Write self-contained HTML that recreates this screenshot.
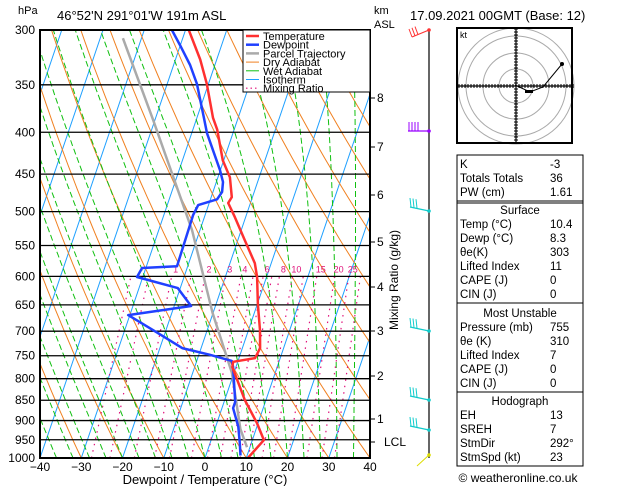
<!DOCTYPE html>
<html><head><meta charset="utf-8">
<style>
body{margin:0;background:#fff;}
svg{display:block;font-family:"Liberation Sans",sans-serif;}
</style></head>
<body>
<svg id="c" width="629" height="486" viewBox="0 0 629 486" xmlns="http://www.w3.org/2000/svg">
<defs><clipPath id="pa"><rect x="40" y="30" width="330" height="428"/></clipPath></defs>
<g id="bg" clip-path="url(#pa)"></g>
<g id="plines"></g>
<g id="series" clip-path="url(#pa)"></g>
<rect x="40" y="30" width="330" height="428" fill="none" stroke="#000" stroke-width="2"/>
<g id="axes" font-size="12"></g>
<text x="18" y="14" font-size="11">hPa</text>
<text x="57" y="20" font-size="13">46°52'N  291°01'W  191m  ASL</text>
<text x="374" y="14" font-size="11">km</text>
<text x="374" y="28" font-size="11">ASL</text>
<text x="410" y="20" font-size="13">17.09.2021  00GMT  (Base: 12)</text>
<text x="205" y="484" font-size="13" text-anchor="middle">Dewpoint / Temperature (°C)</text>
<text transform="translate(398,280) rotate(-90)" font-size="12" text-anchor="middle">Mixing Ratio (g/kg)</text>
<g id="legend" font-size="11">
<rect x="243" y="30" width="127" height="62" fill="#fff" stroke="#000" stroke-width="1"/>
</g>
<g id="winds"></g>
<g id="hodo"></g>
<g id="table" font-size="11.5"></g>
<text x="518" y="482" font-size="12" text-anchor="middle">© weatheronline.co.uk</text>
</svg>
<script>
// ---- data ----
const tempP = [1000,951,906,850,774,763,755,734,698,650,601,578,542,508,488,480,454,433,397,384,349,326,300];
const tempT = [10.4,12.8,9.7,4.9,-0.9,-1.1,3.9,4.3,2.8,0.2,-2.3,-4.0,-8.3,-12.6,-15.4,-15.0,-17.1,-20.2,-24.1,-26.1,-30.4,-34.0,-39.2];
const dewP = [993,959,916,869,854,774,761,748,734,703,669,652,620,601,586,583,505,491,483,473,460,445,401,384,349,331,313,300];
const dewT = [8.4,7.2,5.5,2.7,2.7,-0.7,-1.5,-7.3,-14.6,-21.9,-30.4,-15.9,-20.6,-31.4,-30.9,-22.6,-22.9,-22.5,-18.4,-17.8,-18.4,-20.1,-26.3,-28.3,-32.8,-36.0,-40.1,-43.3];
const parcelP = [970,922,787,665,527,386,307];
const parcelT = [9.3,6.2,-0.5,-10.1,-21.9,-40.5,-54.5];
const pLevels = [300,350,400,450,500,550,600,650,700,750,800,850,900,950,1000];
const xTicks = [-40,-30,-20,-10,0,10,20,30,40];
const kmLabels = ['1','2','3','4','5','6','7','8'];
const kmY = [419,376,331,287,242,195,147,98];
const mixRatios = [1,2,3,4,6,8,10,15,20,25];
const mixExtra = [0.4,0.6,1.5,5,7,12,30];
const windY = [30,131,211,331,400,430,455];
const windColors = ['#f33','#90f','#1cc','#1cc','#1cc','#1cc','#dd0'];
const tblRows = [
 ['box',155,203],['K','-3',168],['Totals Totals','36',182],['PW (cm)','1.61',196],
 ['box',201,303],['hdr','Surface',214],['Temp (°C)','10.4',228],['Dewp (°C)','8.3',242],['θe(K)','303',256],['Lifted Index','11',270],['CAPE (J)','0',284],['CIN (J)','0',298],
 ['box',303,392],['hdr','Most Unstable',317],['Pressure (mb)','755',331],['θe (K)','310',345],['Lifted Index','7',359],['CAPE (J)','0',373],['CIN (J)','0',387],
 ['box',392,466],['hdr','Hodograph',405],['EH','13',419],['SREH','7',433],['StmDir','292°',447],['StmSpd (kt)','23',461]
];
// ---- axes functions ----
const NS='http://www.w3.org/2000/svg';
function Y(p){return 30+Math.log(p/300)/Math.log(1000/300)*428;}
function X(T,p){return 40+(T+40)*4.125+(458-Y(p))*0.34;}
function mk(tag,attrs,parent){const e=document.createElementNS(NS,tag);for(const k in attrs)e.setAttribute(k,attrs[k]);parent.appendChild(e);return e;}
const bg=document.getElementById('bg');
for(let t=-120;t<=40;t+=10){
 const l=mk('line',{x1:X(t,1000),y1:Y(1000),x2:X(t,300),y2:Y(300),stroke:'#1ea0ff','stroke-width':1},bg);
 
 
}
for(let th=-30;th<=200;th+=10){
 let d='';for(let p=1000;p>=300;p-=10){const T=(th+273.15)*Math.pow(p/1000,0.286)-273.15;d+=(p==1000?'M':'L')+X(T,p).toFixed(1)+','+Y(p).toFixed(1);}
 const e=mk('path',{d:d,fill:'none',stroke:'#f08020','stroke-width':1},bg);
 
 
}
function es(tc){return 6.112*Math.exp(17.67*tc/(tc+243.5));}
for(let t0=-36;t0<=40;t0+=4){
 let T=t0+273.15,d='M'+X(t0,1000).toFixed(1)+','+Y(1000).toFixed(1);
 for(let p=1000;p>300;p-=5){
  const e=es(T-273.15),rs=0.622*e/(p-e);
  const dTdp=(287*T+2.5e6*rs)/(p*(1004+2.5e6*2.5e6*rs*0.622/(287*T*T)));
  T-=dTdp*5;d+='L'+X(T-273.15,p-5).toFixed(1)+','+Y(p-5).toFixed(1);
 }
 const e=mk('path',{d:d,fill:'none',stroke:'#10c010','stroke-width':1,'stroke-dasharray':'6,3'},bg);
 
 
}
function tdOf(w,p){const e=w*p/(622+w);const a=Math.log(e/6.112);return 243.5*a/(17.67-a);}
const pl=document.getElementById('plines');
mixExtra.forEach(w=>{
 const e=mk('line',{x1:X(tdOf(w,1000),1000),y1:Y(1000),x2:X(tdOf(w,600),600),y2:Y(600),stroke:'#e0107a','stroke-width':1.2,'stroke-dasharray':'1.5,5'},bg);
 
 
});
mixRatios.forEach(w=>{
 const e=mk('line',{x1:X(tdOf(w,1000),1000),y1:Y(1000),x2:X(tdOf(w,600),600),y2:Y(600),stroke:'#e0107a','stroke-width':1.2,'stroke-dasharray':'1.5,5'},bg);
 
 
 const t=mk('text',{x:X(tdOf(w,600),600)+4,y:Y(600)-4,'font-size':9,fill:'#e0107a','text-anchor':'middle'},bg);
 t.textContent=w;
 
 
});
const ax=document.getElementById('axes');
pLevels.forEach(p=>{
 const l=mk('line',{x1:40,y1:Y(p),x2:370,y2:Y(p),stroke:'#000','stroke-width':1.3},pl);
 
 
 const t=mk('text',{x:35,y:Y(p)+4,'text-anchor':'end'},ax);
 t.textContent=p;
 
 
});
xTicks.forEach(v=>{
 const t=mk('text',{x:X(v,1000),y:471,'text-anchor':'middle'},ax);
 t.textContent=(v<0?'\u2212'+(-v):v);
 
 
});
kmLabels.forEach((k,i)=>{
 mk('line',{x1:370,y1:kmY[i],x2:375,y2:kmY[i],stroke:'#000'},ax);
 const t=mk('text',{x:377,y:kmY[i]+4},ax);
 t.textContent=k;
 
 
});
mk('line',{x1:370,y1:442,x2:375,y2:442,stroke:'#000'},ax);
const lcl=mk('text',{x:384,y:446},ax);lcl.textContent='LCL';


const sg=document.getElementById('series');
function line(P,T,col,w,name){
 const d=P.map((p,i)=>(i?'L':'M')+X(T[i],p).toFixed(1)+','+Y(p).toFixed(1)).join('');
 const e=mk('path',{d:d,fill:'none',stroke:col,'stroke-width':w,'stroke-linejoin':'round'},sg);
 
 
}
line(parcelP,parcelT,'#aaa',2.5,'parcel-trajectory-line');
line(dewP,dewT,'#2040ff',2.5,'dewpoint-line');
line(tempP,tempT,'#ff3030',2.5,'temperature-line');
const lg=document.getElementById('legend');
[['Temperature','#ff3030','solid',2.5],['Dewpoint','#2040ff','solid',2.5],['Parcel Trajectory','#aaa','solid',2.5],['Dry Adiabat','#f08020','solid',1],['Wet Adiabat','#10c010','solid',1],['Isotherm','#1ea0ff','solid',1],['Mixing Ratio','#e0107a','dot',1.2]].forEach((r,i)=>{
 const y=36+i*8.7;
 const l=mk('line',{x1:246,y1:y,x2:259,y2:y,stroke:r[1],'stroke-width':r[3]},lg);
 if(r[2]=='dot')l.setAttribute('stroke-dasharray','1.5,3');
 const t=mk('text',{x:263,y:y+4},lg);t.textContent=r[0];
 
 
});
const wg=document.getElementById('winds');
mk('line',{x1:429,y1:30,x2:429,y2:458,stroke:'#000','stroke-width':1.2},wg);
windY.forEach((y,i)=>{
 const c=windColors[i];
 const b=mk('g',{},wg);
 
 
 if(i==0){mk('line',{x1:429,y1:y,x2:412,y2:y+7,stroke:c,'stroke-width':1.2},b);for(let k=0;k<3;k++)mk('line',{x1:412+k*3,y1:y+7-k*1.2,x2:409+k*3,y2:y-1-k*1.2,stroke:c},b);}
 else if(i==1){mk('line',{x1:429,y1:y,x2:408,y2:y,stroke:c,'stroke-width':1.2},b);for(let k=0;k<4;k++)mk('line',{x1:409+k*3,y1:y,x2:409+k*3,y2:y-9,stroke:c},b);}
 else if(i==6){mk('line',{x1:429,y1:y,x2:417,y2:y+11,stroke:c},b);}
 else{mk('line',{x1:429,y1:y,x2:410,y2:y-4,stroke:c,'stroke-width':1.2},b);for(let k=0;k<3;k++)mk('line',{x1:411+k*3,y1:y-4+k*.6,x2:410+k*3,y2:y-13+k*.6,stroke:c},b);}
 mk('circle',{cx:429,cy:y,r:1.8,fill:c},b);
});
const hg=document.getElementById('hodo');
const cx=516,cy=86;
[17,33,50,58].forEach(r=>mk('circle',{cx:cx,cy:cy,r:r,fill:'none',stroke:'#aaa','stroke-width':1},hg));
mk('rect',{x:457,y:28,width:115,height:115,fill:'none',stroke:'#000','stroke-width':2},hg);
mk('line',{x1:457,y1:cy,x2:572,y2:cy,stroke:'#000','stroke-width':1.2},hg);
mk('line',{x1:cx,y1:28,x2:cx,y2:143,stroke:'#000','stroke-width':1.2},hg);
for(let k=-19;k<=19;k++){mk('line',{x1:cx+k*3,y1:cy-2,x2:cx+k*3,y2:cy+2,stroke:'#000'},hg);mk('line',{x1:cx-2,y1:cy+k*3,x2:cx+2,y2:cy+k*3,stroke:'#000'},hg);}
mk('path',{d:'M515,85L530,92L543,87L562,64',fill:'none',stroke:'#000','stroke-width':1},hg);
mk('circle',{cx:562,cy:64,r:2,fill:'#000'},hg);
mk('rect',{x:525,y:90,width:8,height:3,fill:'#000'},hg);
const kt=mk('text',{x:460,y:38,'font-size':9},hg);kt.textContent='kt';
const tb=document.getElementById('table');
tblRows.forEach(r=>{
 if(r[0]=='box'){mk('rect',{x:457,y:r[1],width:126,height:r[2]-r[1],fill:'none',stroke:'#000','stroke-width':1},tb);return;}
 if(r[0]=='hdr'){const t=mk('text',{x:520,y:r[2],'text-anchor':'middle'},tb);t.textContent=r[1];
  
  return;}
 const a=mk('text',{x:460,y:r[2]},tb);a.textContent=r[0];
 
 
 const b=mk('text',{x:550,y:r[2]},tb);b.textContent=r[1];
 
 
});
</script>
</body></html>
